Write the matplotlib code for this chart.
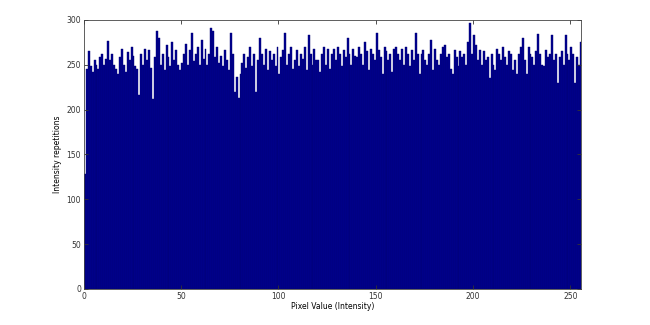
import matplotlib as mpl
mpl.use('Agg')
from matplotlib import pyplot as plt
import numpy as np

# histogram counts for pixel values 0..255
counts = [
    128, 245, 265, 248, 242, 255, 250, 245, 258, 262, 250, 256, 276, 255, 262, 250,
    245, 240, 258, 268, 250, 242, 264, 255, 270, 260, 248, 245, 216, 262, 250, 268,
    255, 266, 246, 212, 258, 287, 280, 250, 262, 244, 272, 258, 248, 275, 255, 266,
    250, 244, 252, 262, 273, 250, 266, 285, 254, 262, 270, 250, 278, 256, 268, 250,
    262, 291, 288, 258, 270, 252, 260, 248, 266, 255, 244, 285, 262, 220, 236, 213,
    240, 252, 262, 246, 258, 270, 248, 262, 220, 255, 280, 262, 250, 268, 244, 265,
    255, 262, 248, 270, 240, 258, 266, 285, 250, 262, 270, 245, 255, 266, 248, 262,
    256, 270, 244, 283, 262, 250, 268, 255, 255, 242, 262, 270, 250, 268, 245, 262,
    268, 255, 270, 262, 248, 266, 258, 280, 262, 250, 268, 260, 258, 270, 262, 250,
    275, 265, 244, 268, 262, 255, 285, 266, 258, 240, 270, 265, 255, 262, 242, 268,
    270, 262, 255, 268, 250, 270, 262, 248, 266, 255, 285, 262, 240, 262, 266, 255,
    250, 262, 278, 244, 268, 255, 250, 262, 270, 272, 258, 262, 245, 240, 266, 258,
    248, 265, 258, 262, 250, 275, 297, 262, 283, 272, 255, 266, 250, 265, 255, 258,
    235, 262, 250, 244, 268, 262, 255, 270, 258, 250, 265, 262, 244, 255, 240, 262,
    270, 280, 255, 240, 270, 262, 258, 250, 265, 284, 262, 250, 248, 266, 258, 262,
    283, 255, 262, 230, 258, 265, 250, 283, 262, 255, 270, 262, 230, 258, 250, 275,
]
pixel_values = np.arange(len(counts))
xticks = [0, 50, 100, 150, 200, 250]
yticks = [0, 50, 100, 150, 200, 250, 300]

fig = plt.figure(figsize=(6.5, 3.25), dpi=100)
ax = fig.add_axes([0.129, 0.111, 0.765, 0.828])

ax.bar(pixel_values, counts, width=1.0, align='edge',
       color='#00008F', edgecolor='#000070', linewidth=0.3)

ax.set_xlim(0, 255.5)
ax.set_ylim(0, 300)
ax.set_xticks(xticks)
ax.set_yticks(yticks)

ax.tick_params(direction='in', top=True, right=True, labelsize=5.5,
               length=3, width=0.6, colors='#333333', pad=2)
for s in ax.spines.values():
    s.set_linewidth(0.6)
    s.set_color('#444444')

ax.set_xlabel('Pixel Value (Intensity)', fontsize=5.5, labelpad=1)
ax.set_ylabel('Intensity repetitions', fontsize=5.5, labelpad=3)

plt.savefig('out.png', dpi=100)
plt.close()
